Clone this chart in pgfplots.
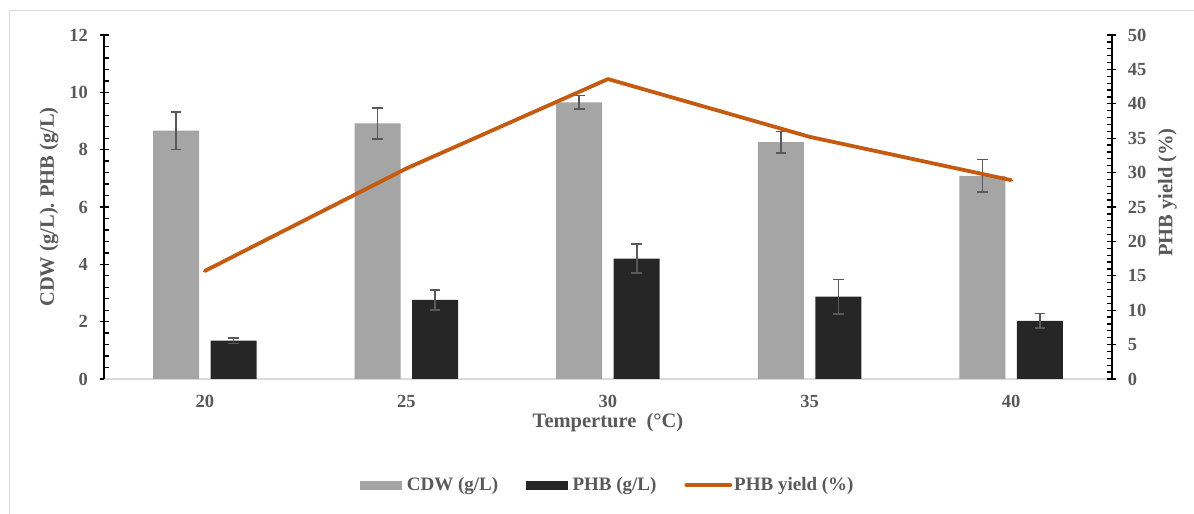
\documentclass[border=0pt]{standalone}
\usepackage{fontspec}
\setmainfont{Liberation Serif}
\usepackage{pgfplots}
\pgfplotsset{compat=1.18}
\definecolor{cdw}{HTML}{A5A5A5}
\definecolor{phb}{HTML}{262626}
\definecolor{yieldc}{HTML}{C55A11}
\definecolor{txt}{HTML}{595959}
\definecolor{errc}{HTML}{595959}
\definecolor{framec}{HTML}{D9D9D9}
\begin{document}
\begin{tikzpicture}
\useasboundingbox (0,0) rectangle (1194bp,514bp);
\draw[framec, line width=1.2bp] (9.5bp,-20bp) -- (9.5bp,503.5bp) -- (1220bp,503.5bp);
\begin{axis}[
  at={(104bp,135bp)}, anchor=south west,
  scale only axis, width=1008bp, height=344bp,
  xmin=-0.5, xmax=4.5, ymin=0, ymax=12,
  /pgf/number format/assume math mode=true,
  axis x line*=bottom, axis y line*=left,
  x axis line style={draw=framec, line width=1.5bp},
  y axis line style={draw=black, line width=1.3bp},
  xtick={0,1,2,3,4}, xticklabels={20,25,30,35,40},
  major x tick style={draw=none},
  ytick={0,2,4,6,8,10,12}, minor y tick num=4,
  tick align=center, major tick length=9bp, minor tick length=4.5bp,
  y tick style={black, line width=1.3bp},
  minor y tick style={xshift=2.25bp},
  ticklabel style={font=\fontsize{18.5bp}{20bp}\selectfont\bfseries, text=txt},
  xticklabel style={yshift=-3.5bp},
  yticklabel style={xshift=-8bp},
  ylabel={CDW (g/L). PHB (g/L)},
  xlabel={Temperture\ \ (°C)},
  every axis y label/.style={at={(axis description cs:-0.0546,0.5)}, rotate=90, anchor=center,
     font=\fontsize{20.5bp}{22bp}\selectfont\bfseries, text=txt},
  every axis x label/.style={at={(axis description cs:0.5,-0.1424)}, anchor=base,
     font=\fontsize{20.5bp}{22bp}\selectfont\bfseries, text=txt},
  ybar=11.5bp, bar width=46bp,
  clip=false,
]
\addplot[fill=cdw, draw=none,
  error bars/.cd, y dir=both, y explicit,
  error bar style={errc, line width=1.6bp},
  error mark options={rotate=90, errc, mark size=5.3bp, line width=1.6bp}]
  coordinates {(0,8.66) +- (0,0.65) (1,8.92) +- (0,0.54) (2,9.65) +- (0,0.24) (3,8.26) +- (0,0.37) (4,7.09) +- (0,0.57)};
\addplot[fill=phb, draw=none,
  error bars/.cd, y dir=both, y explicit,
  error bar style={errc, line width=1.6bp},
  error mark options={rotate=90, errc, mark size=5.3bp, line width=1.6bp}]
  coordinates {(0,1.34) +- (0,0.10) (1,2.76) +- (0,0.35) (2,4.20) +- (0,0.50) (3,2.87) +- (0,0.60) (4,2.03) +- (0,0.25)};
\end{axis}
\begin{axis}[
  at={(104bp,135bp)}, anchor=south west,
  scale only axis, width=1008bp, height=344bp,
  xmin=-0.5, xmax=4.5, ymin=0, ymax=50,
  /pgf/number format/assume math mode=true,
  axis x line=none, axis y line*=right,
  y axis line style={draw=black, line width=1.3bp},
  ytick={0,5,10,15,20,25,30,35,40,45,50}, minor y tick num=4,
  tick align=center, major tick length=9bp, minor tick length=4.5bp,
  y tick style={black, line width=1.3bp},
  minor y tick style={xshift=-2.25bp},
  ticklabel style={font=\fontsize{18.5bp}{20bp}\selectfont\bfseries, text=txt},
  yticklabel style={xshift=8bp},
  ylabel={PHB yield (\%)},
  every axis y label/.style={at={(axis description cs:1.055,0.542)}, rotate=90, anchor=center,
     font=\fontsize{20.5bp}{22bp}\selectfont\bfseries, text=txt},
  clip=false,
  legend columns=3,
  legend style={at={(axis description cs:0.5,-0.308)}, anchor=center, draw=none, fill=none,
    font=\fontsize{19bp}{21bp}\selectfont\bfseries, text=txt,
    /tikz/every even column/.append style={column sep=26bp}},
  legend cell align=left,
]
\addlegendimage{legend image code/.code={\fill[cdw] (0bp,-3.75bp) rectangle (41bp,3.75bp);}}
\addlegendentry{\hspace{3bp}CDW (g/L)}
\addlegendimage{legend image code/.code={\fill[phb] (0bp,-3.75bp) rectangle (41bp,3.75bp);}}
\addlegendentry{\hspace{3bp}PHB (g/L)}
\addplot[yieldc, line width=3.8bp, line join=round, line cap=round,
  legend image code/.code={\draw[yieldc, line width=3.8bp, line cap=round] (0bp,0bp) -- (44bp,0bp);}]
  coordinates {(0,15.7) (1,30.6) (2,43.6) (3,35.2) (4,28.9)};
\addlegendentry{PHB yield (\%)}
\end{axis}
\end{tikzpicture}
\end{document}
